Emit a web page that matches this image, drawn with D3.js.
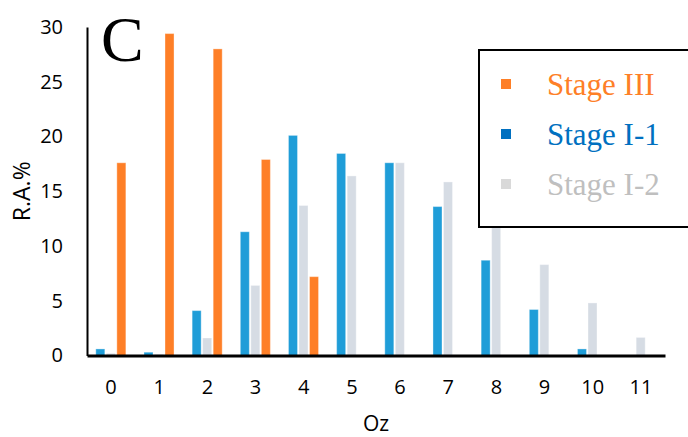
<!DOCTYPE html>
<html>
<head>
<meta charset="utf-8">
<script src="https://cdn.jsdelivr.net/npm/d3@7"></script>
<style>
  html, body { margin: 0; padding: 0; background: #fff; }
  svg { display: block; }
</style>
</head>
<body>
<svg id="chart" width="688" height="437"></svg>
<script>
const categories = ["0","1","2","3","4","5","6","7","8","9","10","11"];
const seriesNames = ["Stage I-1", "Stage I-2", "Stage III"];
const stageI1  = [0.6, 0.3, 4.1, 11.3, 20.1, 18.45, 17.6, 13.6, 8.7, 4.2, 0.6, 0];
const stageI2  = [0.2, 0.1, 1.6, 6.4, 13.7, 16.4, 17.6, 15.85, 12.5, 8.3, 4.8, 1.65];
const stageIII = [17.6, 29.4, 28.0, 17.9, 7.2, 0, 0, 0, 0, 0, 0, 0];
const yTicks = [0, 5, 10, 15, 20, 25, 30];
const legendOrder = ["Stage III", "Stage I-1", "Stage I-2"];

const barColor = {"Stage I-1": "#1f9dd8", "Stage I-2": "#d6dce4", "Stage III": "#fe7f27"};
const legendSquare = {"Stage III": "#fe7f27", "Stage I-1": "#0070c0", "Stage I-2": "#d9d9d9"};
const legendText = {"Stage III": "#fe7f27", "Stage I-1": "#0070c0", "Stage I-2": "#bfbfbf"};

const values = {"Stage I-1": stageI1, "Stage I-2": stageI2, "Stage III": stageIII};

const svg = d3.select("#chart");
const mLeft = 87, mRight = 665, mTop = 27, mBottom = 355.5;

const x = d3.scaleBand().domain(categories).range([mLeft, mRight]).padding(0);
const groupW = x.bandwidth() * 0.655;
const x1 = d3.scaleBand().domain(seriesNames).range([0, groupW]).padding(0);
const y = d3.scaleLinear().domain([0, 30]).range([mBottom, mTop]);

const axisFont = "'Open Sans', 'DejaVu Sans', sans-serif";

// bars
const data = [];
categories.forEach((c, i) => {
  seriesNames.forEach(s => data.push({c, s, v: values[s][i]}));
});
svg.append("g").selectAll("rect")
  .data(data.filter(d => d.v > 0))
  .join("rect")
  .attr("x", d => x(d.c) + (x.bandwidth() - groupW) / 2 + x1(d.s) + 0.5)
  .attr("width", x1.bandwidth() - 1.5)
  .attr("y", d => y(d.v))
  .attr("height", d => y(0) - y(d.v))
  .attr("fill", d => barColor[d.s])
  .attr("stroke", "#ffffff")
  .attr("stroke-opacity", 0.35)
  .attr("stroke-width", 1);

// y axis
const yAxis = svg.append("g")
  .attr("transform", `translate(${mLeft},0)`)
  .call(d3.axisLeft(y).tickValues(yTicks).tickSize(0).tickPadding(24));
yAxis.select(".domain").attr("stroke", "#000").attr("stroke-width", 2);
yAxis.selectAll("text").attr("font-family", axisFont).attr("font-size", 20).attr("fill", "#000");

// x axis
const xAxis = svg.append("g")
  .attr("transform", `translate(0,${mBottom})`)
  .call(d3.axisBottom(x).tickSize(0).tickPadding(24));
xAxis.select(".domain").attr("stroke", "#000").attr("stroke-width", 3);
xAxis.selectAll("text").attr("font-family", axisFont).attr("font-size", 20).attr("fill", "#000");

// axis titles
svg.append("text")
  .attr("x", (mLeft + mRight) / 2).attr("y", 431)
  .attr("text-anchor", "middle")
  .attr("font-family", axisFont).attr("font-size", 21)
  .text("Oz");
svg.append("text")
  .attr("transform", `translate(30,${(mTop + mBottom) / 2}) rotate(-90)`)
  .attr("text-anchor", "middle")
  .attr("font-family", axisFont).attr("font-size", 23)
  .text("R.A.%");

// panel letter
svg.append("text")
  .attr("x", 101).attr("y", 61)
  .attr("font-family", "'Liberation Serif', 'Times New Roman', serif")
  .attr("font-size", 64)
  .text("C");

// legend
const lg = svg.append("g");
lg.append("rect")
  .attr("x", 479).attr("y", 50).attr("width", 220).attr("height", 177)
  .attr("fill", "#fff").attr("stroke", "#000").attr("stroke-width", 2);
legendOrder.forEach((s, i) => {
  const cy = 84 + i * 50;
  lg.append("rect")
    .attr("x", 501).attr("y", cy - 5).attr("width", 10).attr("height", 10)
    .attr("fill", legendSquare[s]);
  lg.append("text")
    .attr("x", 547).attr("y", cy + 11)
    .attr("font-family", "'Liberation Serif', 'Times New Roman', serif")
    .attr("font-size", 31)
    .attr("fill", legendText[s])
    .text(s);
});
</script>
</body>
</html>
